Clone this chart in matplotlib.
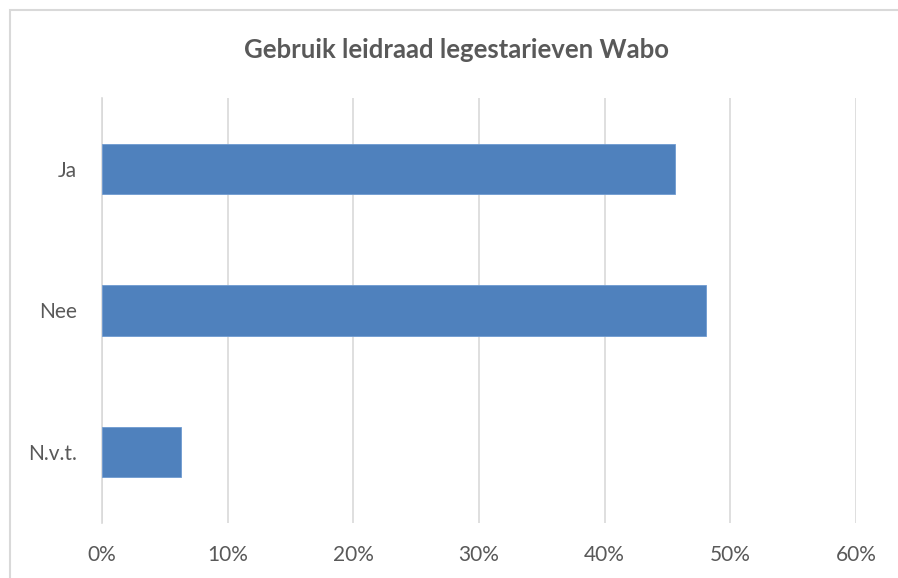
import matplotlib.pyplot as plt
import matplotlib
from matplotlib.patches import Rectangle
from matplotlib.ticker import PercentFormatter

plt.rcParams['font.family'] = ['Lato', 'DejaVu Sans']

# data
categories = ['Ja', 'Nee', 'N.v.t.']
values = [45.6, 48.1, 6.3]
x_ticks = [0, 10, 20, 30, 40, 50, 60]
title = 'Gebruik leidraad legestarieven Wabo'

bar_color = '#4f81bd'
grid_color = '#d9d9d9'
text_color = '#595959'

fig = plt.figure(figsize=(8.98, 5.78), dpi=100)
ax = fig.add_axes([102 / 898, 1 - 523 / 578, (856 - 102) / 898, (523 - 98) / 578])

ypos = list(range(len(categories)))
ax.barh(ypos, values, height=0.355, color=bar_color, edgecolor='#6f9bd1', linewidth=0.6, zorder=3)

ax.set_xlim(0, 60)
ax.set_ylim(len(categories) - 0.5, -0.5)
ax.set_xticks(x_ticks)
ax.xaxis.set_major_formatter(PercentFormatter(decimals=0))
ax.set_yticks(ypos)
ax.set_yticklabels(categories)
ax.grid(axis='x', color=grid_color, linewidth=1.2, zorder=0)
ax.tick_params(axis='x', length=0, pad=16, labelsize=15, labelcolor=text_color)
ax.tick_params(axis='y', length=0, pad=18, labelsize=15, labelcolor=text_color)
for s in ['top', 'right', 'bottom']:
    ax.spines[s].set_visible(False)
ax.spines['left'].set_color(grid_color)
ax.spines['left'].set_linewidth(1.2)

fig.text(456 / 898, 1 - 50 / 578, title, ha='center', va='center',
         fontsize=18.5, fontweight='bold', color=text_color)

# chart border (right and bottom edge fall outside the picture)
fig.patches.append(Rectangle((9.5 / 898, -0.1), 1.2, 1.1 - 10.5 / 578, transform=fig.transFigure,
                             fill=False, edgecolor=grid_color, linewidth=1.5, zorder=0))

fig.savefig('out.png', dpi=100)
